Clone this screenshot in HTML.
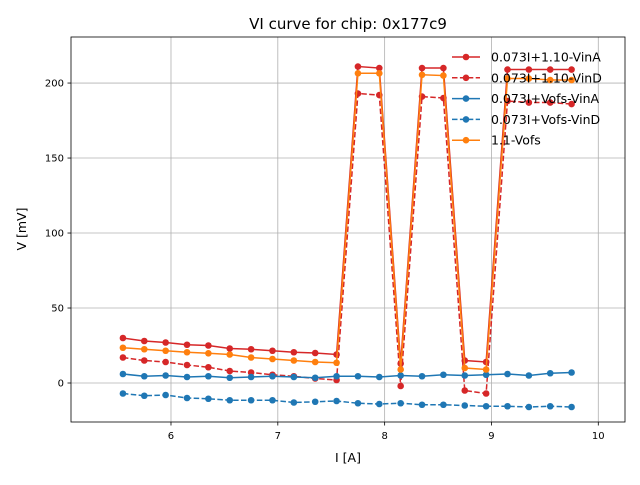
<!DOCTYPE html>
<html><head><meta charset="utf-8"><style>
body{margin:0;background:#fff;font-family:"Liberation Sans","DejaVu Sans",sans-serif}
svg text{font-family:"DejaVu Sans","Liberation Sans",sans-serif}
</style></head><body>
<svg id="c" width="640" height="480" xmlns="http://www.w3.org/2000/svg"></svg>
<script>
const xs=[5.55,5.75,5.95,6.15,6.35,6.55,6.75,6.95,7.15,7.35,7.55,7.75,7.95,8.15,8.35,8.55,8.75,8.95,9.15,9.35,9.55,9.75];
const vinA110=[30,28,27,25.5,25,23,22.5,21.5,20.5,20,19,211,210,13,210,210,15,14,209,209,209,209];
const vinD110=[17,15,14,12,10.5,8,7,5.5,4.5,3,2,193,192,-2,191,190,-5,-7,188,187,187,186];
const vinAVofs=[6,4.5,5,4,4.5,3.5,4,4.5,4,3.5,4.5,4.5,4,5,4.5,5.5,5,5.5,6,5,6.5,7];
const vinDVofs=[-7,-8.5,-8,-10,-10.5,-11.5,-11.5,-11.5,-13,-12.5,-12,-13.5,-14,-13.5,-14.5,-14.5,-15,-15.5,-15.5,-16,-15.5,-16];
const vofs11=[23.5,22.5,21.5,20.5,19.8,19,17,16,15,14,13.5,206.5,206.5,9,205.5,205,10,9,203,203,202,202];
const xTicks=[6,7,8,9,10];
const yTicks=[0,50,100,150,200];
const seriesNames=["0.073I+1.10-VinA","0.073I+1.10-VinD","0.073I+Vofs-VinA","0.073I+Vofs-VinD","1.1-Vofs"];
const L=71,R=625,T=37,B=422;
const X0=5.064,X1=10.25,Y0=-26,Y1=230.7;
const sx=v=>L+(v-X0)/(X1-X0)*(R-L);
const sy=v=>B-(v-Y0)/(Y1-Y0)*(B-T);
const svg=document.getElementById('c');const NS="http://www.w3.org/2000/svg";
function mk(t,a,p){const e=document.createElementNS(NS,t);for(const k in a)e.setAttribute(k,a[k]);(p||svg).appendChild(e);return e;}
const grid=mk('g',{});


xTicks.forEach(t=>{const x=sx(t);mk('line',{x1:x,x2:x,y1:T,y2:B,stroke:'#b0b0b0','stroke-width':0.8},grid);
mk('line',{x1:x,x2:x,y1:B,y2:B+3.5,stroke:'#000','stroke-width':0.8});
const tx=mk('text',{x:x,y:B+17,'text-anchor':'middle','font-size':10});tx.textContent=t;

});
yTicks.forEach(t=>{const y=sy(t);mk('line',{x1:L,x2:R,y1:y,y2:y,stroke:'#b0b0b0','stroke-width':0.8},grid);
mk('line',{x1:L-3.5,x2:L,y1:y,y2:y,stroke:'#000','stroke-width':0.8});
const tx=mk('text',{x:L-7,y:y+3.5,'text-anchor':'end','font-size':10});tx.textContent=t;

});
const series=[[vinA110,'#d62728',''],[vinD110,'#d62728','5.5,2.4'],[vinAVofs,'#1f77b4',''],[vinDVofs,'#1f77b4','5.5,2.4'],[vofs11,'#ff7f0e','']];
series.forEach((s,i)=>{const g=mk('g',{});


mk('polyline',{points:xs.map((x,j)=>sx(x)+','+sy(s[0][j])).join(' '),fill:'none',stroke:s[1],'stroke-width':1.5,'stroke-dasharray':s[2]},g);
xs.forEach((x,j)=>mk('circle',{cx:sx(x),cy:sy(s[0][j]),r:3.3,fill:s[1]},g));});
mk('rect',{x:L,y:T,width:R-L,height:B-T,fill:'none',stroke:'#000','stroke-width':0.8});
const lg=mk('g',{});


series.forEach((s,i)=>{const y=57+i*20.8;
mk('line',{x1:452,x2:480,y1:y,y2:y,stroke:s[1],'stroke-width':1.5,'stroke-dasharray':s[2]},lg);
mk('circle',{cx:466,cy:y,r:3.3,fill:s[1]},lg);
const t=mk('text',{x:491,y:y+4.5,'font-size':12.5},lg);t.textContent=seriesNames[i];

});
const ti=mk('text',{x:348,y:29,'text-anchor':'middle','font-size':15});ti.textContent='VI curve for chip: 0x177c9';


const xl=mk('text',{x:348,y:462,'text-anchor':'middle','font-size':12.5});xl.textContent='I [A]';


const yl=mk('text',{x:26,y:229,'text-anchor':'middle','font-size':12.5,transform:'rotate(-90 26 229)'});yl.textContent='V [mV]';


</script>
</body></html>
